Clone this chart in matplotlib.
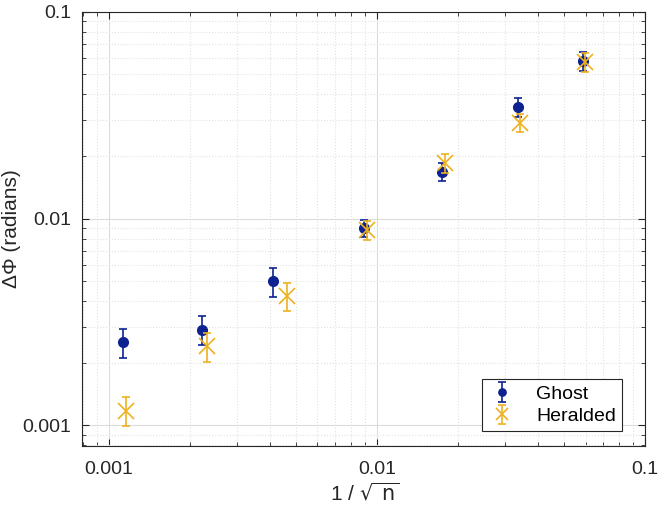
import matplotlib
matplotlib.use("Agg")
import matplotlib.pyplot as plt
from matplotlib.ticker import LogLocator, FixedLocator, FixedFormatter, NullFormatter

plt.rcParams['font.family'] = ['Liberation Sans', 'DejaVu Sans']

# Data
ghost_x = [0.00113, 0.00222, 0.00411, 0.00896, 0.0175, 0.0336, 0.0586]
ghost_y = [0.00253, 0.00291, 0.0050, 0.0090, 0.0169, 0.0348, 0.0580]
ghost_err = [0.0004, 0.00047, 0.0008, 0.00088, 0.0017, 0.0036, 0.006]

her_x = [0.00116, 0.00232, 0.00461, 0.00917, 0.0180, 0.0342, 0.0596]
her_y = [0.00118, 0.00241, 0.00424, 0.00881, 0.01855, 0.0292, 0.0574]
her_err = [0.00019, 0.00038, 0.00066, 0.0009, 0.0020, 0.0028, 0.006]

xticks = [0.001, 0.01, 0.1]
xticklabels = ['0.001', '0.01', '0.1']
yticks = [0.001, 0.01, 0.1]
yticklabels = ['0.001', '0.01', '0.1']

ghost_color = '#0D2290'
her_color = '#EDB120'

fig = plt.figure(figsize=(6.59, 5.09), dpi=100)
ax = fig.add_axes([82/659, 1-446/509, (645-82)/659, (446-12)/509])

ax.errorbar(ghost_x, ghost_y, yerr=ghost_err, fmt='o', color=ghost_color,
            markersize=7, capsize=3, elinewidth=1.2, capthick=1.2, label='Ghost', zorder=3)
ax.errorbar(her_x, her_y, yerr=her_err, fmt='x', color=her_color,
            markersize=11, markeredgewidth=1.2, capsize=3, elinewidth=1.2, capthick=1.2,
            label='Heralded', zorder=4)

ax.set_xscale('log')
ax.set_yscale('log')
ax.set_xlim(0.000794, 0.1)
ax.set_ylim(0.000795, 0.1)

ax.xaxis.set_major_locator(FixedLocator(xticks))
ax.xaxis.set_major_formatter(FixedFormatter(xticklabels))
ax.yaxis.set_major_locator(FixedLocator(yticks))
ax.yaxis.set_major_formatter(FixedFormatter(yticklabels))
ax.xaxis.set_minor_locator(LogLocator(base=10, subs=range(2, 10), numticks=20))
ax.yaxis.set_minor_locator(LogLocator(base=10, subs=range(2, 10), numticks=20))
ax.xaxis.set_minor_formatter(NullFormatter())
ax.yaxis.set_minor_formatter(NullFormatter())

ax.grid(which='major', color='#dcdcdc', linestyle='-', linewidth=0.8)
ax.grid(which='minor', color='#e2e2e2', linestyle=':', linewidth=0.8)
ax.set_axisbelow(True)

ax.tick_params(which='both', direction='in', top=True, right=True, colors='#262626',
               labelcolor='#262626')
ax.tick_params(which='major', length=5, labelsize=14)
ax.tick_params(axis='x', which='major', pad=11)
ax.tick_params(axis='y', which='major', pad=8)
ax.tick_params(which='minor', length=3)
for s in ax.spines.values():
    s.set_color('#262626')
    s.set_linewidth(0.8)

ax.set_xlabel(r'1 / $\sqrt{\mathrm{\ n}}$', fontsize=15, color='#262626')
ax.set_ylabel('ΔΦ (radians)', fontsize=15, color='#262626')
ax.xaxis.set_label_coords(0.503, -0.085)
ax.yaxis.set_label_coords(-0.108, 0.5)

leg = ax.legend(loc='lower right', fontsize=14, frameon=True, fancybox=False,
                edgecolor='#262626', framealpha=1, bbox_to_anchor=(0.976, 0.012),
                handlelength=1.5, handletextpad=1.0, borderpad=0.3, labelspacing=0.25,
                markerscale=0.75)
leg.get_frame().set_linewidth(0.8)
try:
    hs = leg.legend_handles
    hs[0].set_markersize(6)
    hs[1].set_markersize(6)
except Exception:
    pass

fig.savefig('out.png', dpi=100)
